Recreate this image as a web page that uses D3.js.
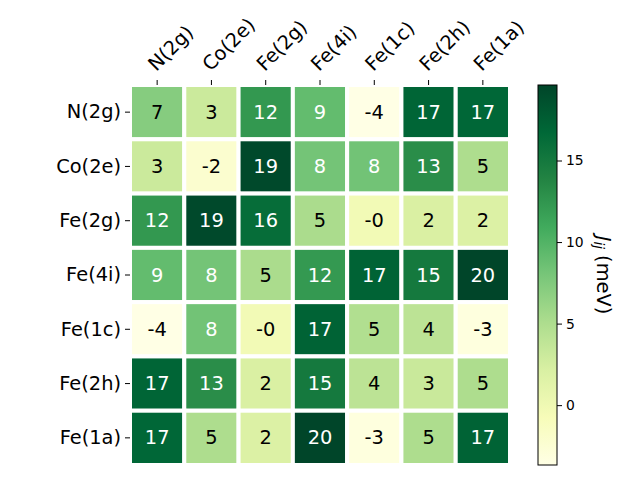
<!DOCTYPE html>
<html>
<head>
<meta charset="utf-8">
<script src="https://cdn.jsdelivr.net/npm/d3@7"></script>
<style>
  body { margin: 0; background: #fff; }
  text { font-family: "DejaVu Sans", sans-serif; }
</style>
</head>
<body>
<div id="chart"></div>
<script>
var sites = ["N(2g)", "Co(2e)", "Fe(2g)", "Fe(4i)", "Fe(1c)", "Fe(2h)", "Fe(1a)"];

// exchange couplings J_ij in meV (rows = sites)
var rowN2g  = [7.2, 3.1, 12.3, 9.1, -3.67, 17.0, 16.8];
var rowCo2e = [3.1, -2.2, 19.3, 8.2, 8.3, 13.1, 5.0];
var rowFe2g = [12.3, 19.3, 16.2, 5.2, -0.3, 2.1, 1.9];
var rowFe4i = [9.1, 8.2, 5.2, 12.2, 17.1, 15.0, 19.63];
var rowFe1c = [-3.67, 8.3, -0.3, 17.1, 4.8, 4.1, -3.2];
var rowFe2h = [17.0, 13.1, 2.1, 15.0, 4.1, 3.2, 5.0];
var rowFe1a = [16.8, 5.0, 1.9, 19.63, -3.2, 5.0, 17.1];
var matrix = [rowN2g, rowCo2e, rowFe2g, rowFe4i, rowFe1c, rowFe2h, rowFe1a];

var cbTicks = [0, 5, 10, 15];
var vmin = -3.67, vmax = 19.63;

var width = 640, height = 480;
var mLeft = 130, mTop = 85, size = 380;

var svg = d3.select("#chart").append("svg")
    .attr("width", width)
    .attr("height", height);

var x = d3.scaleBand().domain(d3.range(7)).range([mLeft, mLeft + size]);
var y = d3.scaleBand().domain(d3.range(7)).range([mTop, mTop + size]);

var ylgn = d3.schemeYlGn[9];
var color = d3.scaleLinear()
    .domain(d3.range(9).map(function(i) { return vmin + (vmax - vmin) * i / 8; }))
    .range(ylgn)
    .clamp(true);

var cells = [];
matrix.forEach(function(row, i) {
  row.forEach(function(v, j) { cells.push({r: i, c: j, v: v}); });
});

svg.selectAll("rect.cell")
    .data(cells)
    .enter().append("rect")
    .attr("class", "cell")
    .attr("x", function(d) { return x(d.c); })
    .attr("y", function(d) { return y(d.r); })
    .attr("width", x.bandwidth())
    .attr("height", y.bandwidth())
    .attr("fill", function(d) { return color(d.v); })
    .attr("stroke", "#fff")
    .attr("stroke-width", 4);

var mid = (vmin + vmax) / 2;
svg.selectAll("text.val")
    .data(cells)
    .enter().append("text")
    .attr("class", "val")
    .attr("x", function(d) { return x(d.c) + x.bandwidth() / 2; })
    .attr("y", function(d) { return y(d.r) + y.bandwidth() / 2; })
    .attr("text-anchor", "middle")
    .attr("dominant-baseline", "central")
    .attr("font-size", "19.4px")
    .attr("fill", function(d) { return d.v > mid ? "#fff" : "#000"; })
    .text(function(d) { return d.v.toFixed(0); });  // keeps "-0" like the original

// row axis
var yAxis = svg.append("g")
    .attr("transform", "translate(" + mLeft + ",0)")
    .call(d3.axisLeft(y).tickSize(5).tickPadding(4).tickFormat(function(i) { return sites[i]; }));
yAxis.select(".domain").remove();
yAxis.selectAll("text").attr("font-size", "19.4px").attr("font-family", "DejaVu Sans");

// column axis on top, labels rotated
var xAxis = svg.append("g")
    .attr("transform", "translate(0," + mTop + ")")
    .call(d3.axisTop(x).tickSize(5).tickFormat(""));
xAxis.select(".domain").remove();

svg.selectAll("text.col")
    .data(sites)
    .enter().append("text")
    .attr("class", "col")
    .attr("transform", function(d, i) {
      return "translate(" + (x(i) + x.bandwidth() / 2 - 1) + ",72) rotate(-45)";
    })
    .attr("font-size", "19.4px")
    .text(function(d) { return d; });

// colorbar
var cbX = 538, cbW = 19;
var cbScale = d3.scaleLinear().domain([vmin, vmax]).range([mTop + size, mTop]);

var defs = svg.append("defs");
var grad = defs.append("linearGradient")
    .attr("id", "cbgrad")
    .attr("x1", "0").attr("y1", "1").attr("x2", "0").attr("y2", "0");
grad.selectAll("stop")
    .data(ylgn)
    .enter().append("stop")
    .attr("offset", function(d, i) { return i / 8; })
    .attr("stop-color", function(d) { return d; });

svg.append("rect")
    .attr("x", cbX)
    .attr("y", mTop)
    .attr("width", cbW)
    .attr("height", size)
    .attr("fill", "url(#cbgrad)")
    .attr("stroke", "#000")
    .attr("stroke-width", 1);

var cbAxis = svg.append("g")
    .attr("transform", "translate(" + (cbX + cbW) + ",0)")
    .call(d3.axisRight(cbScale).tickValues(cbTicks).tickSize(5).tickPadding(4));
cbAxis.select(".domain").remove();
cbAxis.selectAll("text").attr("font-size", "13.9px").attr("font-family", "DejaVu Sans");

var lab = svg.append("text")
    .attr("transform", "translate(604," + (mTop + size / 2) + ") rotate(90)")
    .attr("text-anchor", "middle")
    .attr("dominant-baseline", "central")
    .attr("font-size", "19.4px");
lab.append("tspan").attr("font-style", "italic").text("J");
lab.append("tspan").attr("font-style", "italic").attr("font-size", "13.6px").attr("dy", "5").text("ij");
lab.append("tspan").attr("dy", "-5").text(" (meV)");
</script>
</body>
</html>
